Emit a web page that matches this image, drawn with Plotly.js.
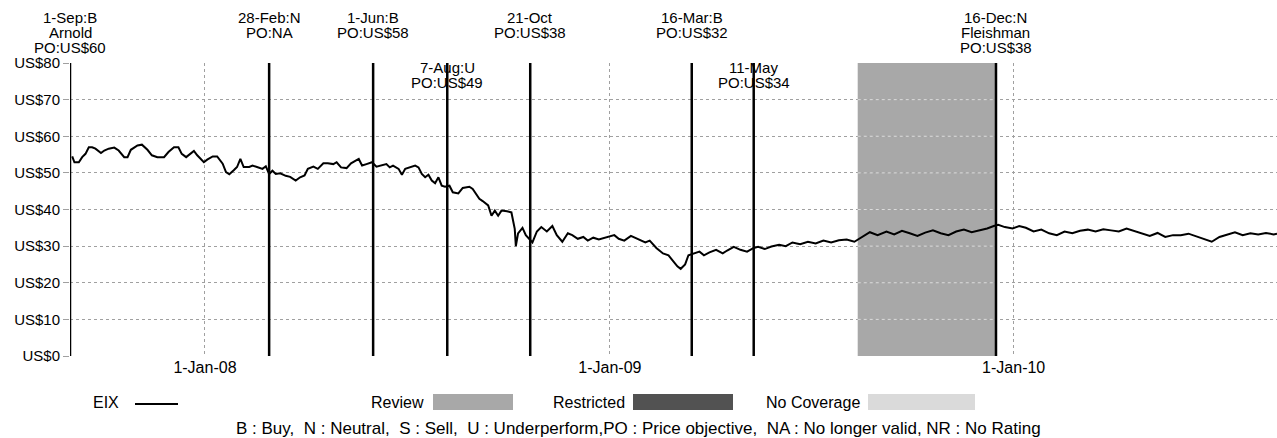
<!DOCTYPE html>
<html>
<head>
<meta charset="utf-8">
<script src="https://cdn.plot.ly/plotly-3.0.1.min.js"></script>
<style>
  html, body { margin: 0; padding: 0; background: #fff; }
  #chart { width: 1277px; height: 438px; }
</style>
</head>
<body>
<div id="chart"></div>
<script>
// ---------------- DATA ----------------
const ticker = 'EIX';

const priceDates = [
  '2007-09-03','2007-09-05','2007-09-09','2007-09-12','2007-09-15','2007-09-18','2007-09-21','2007-09-24','2007-09-29',
  '2007-10-02','2007-10-06','2007-10-11','2007-10-15','2007-10-20','2007-10-23','2007-10-26',
  '2007-11-01','2007-11-05','2007-11-10','2007-11-14','2007-11-19','2007-11-25','2007-11-29',
  '2007-12-04','2007-12-08','2007-12-11','2007-12-15','2007-12-19','2007-12-22','2007-12-25','2007-12-28','2007-12-31',
  '2008-01-03','2008-01-08','2008-01-12','2008-01-17','2008-01-20','2008-01-23','2008-01-27','2008-01-30',
  '2008-02-02','2008-02-05','2008-02-10','2008-02-13','2008-02-17','2008-02-22','2008-02-25','2008-02-28',
  '2008-03-02','2008-03-05','2008-03-09','2008-03-14','2008-03-18','2008-03-23','2008-03-27','2008-03-31',
  '2008-04-03','2008-04-08','2008-04-12','2008-04-17','2008-04-21','2008-04-26','2008-04-29',
  '2008-05-03','2008-05-08','2008-05-12','2008-05-19','2008-05-22','2008-05-26','2008-05-31',
  '2008-06-04','2008-06-09','2008-06-13','2008-06-16','2008-06-19','2008-06-24','2008-06-27','2008-06-30',
  '2008-07-04','2008-07-09','2008-07-12','2008-07-15','2008-07-18','2008-07-21','2008-07-24','2008-07-27','2008-07-30',
  '2008-08-02','2008-08-05','2008-08-09','2008-08-12','2008-08-17','2008-08-21','2008-08-27','2008-08-30',
  '2008-09-02','2008-09-05','2008-09-08','2008-09-13','2008-09-16','2008-09-19','2008-09-22','2008-09-25','2008-09-30',
  '2008-10-04','2008-10-07','2008-10-08','2008-10-10','2008-10-14','2008-10-17','2008-10-23','2008-10-27','2008-10-31',
  '2008-11-05','2008-11-10','2008-11-14','2008-11-19','2008-11-24','2008-11-28',
  '2008-12-03','2008-12-08','2008-12-12','2008-12-17','2008-12-22','2008-12-29',
  '2009-01-05','2009-01-09','2009-01-14','2009-01-20','2009-01-26',
  '2009-02-02','2009-02-06','2009-02-12','2009-02-18','2009-02-23','2009-02-27',
  '2009-03-03','2009-03-06','2009-03-10','2009-03-13','2009-03-18','2009-03-23','2009-03-27',
  '2009-04-01','2009-04-07','2009-04-13','2009-04-17','2009-04-23','2009-04-29',
  '2009-05-05','2009-05-11','2009-05-15','2009-05-21','2009-05-27',
  '2009-06-03','2009-06-09','2009-06-15','2009-06-22','2009-06-29',
  '2009-07-06','2009-07-13','2009-07-20','2009-07-27',
  '2009-08-03','2009-08-10','2009-08-17','2009-08-24','2009-08-31',
  '2009-09-08','2009-09-15','2009-09-22','2009-09-29',
  '2009-10-06','2009-10-13','2009-10-20','2009-10-27',
  '2009-11-03','2009-11-10','2009-11-17','2009-11-24',
  '2009-12-01','2009-12-08','2009-12-14','2009-12-18','2009-12-24','2009-12-31',
  '2010-01-06','2010-01-12','2010-01-19','2010-01-26',
  '2010-02-02','2010-02-09','2010-02-16','2010-02-23',
  '2010-03-02','2010-03-09','2010-03-16','2010-03-23','2010-03-30',
  '2010-04-06','2010-04-13','2010-04-20','2010-04-27',
  '2010-05-04','2010-05-11','2010-05-18','2010-05-25',
  '2010-06-01','2010-06-08','2010-06-15','2010-06-22','2010-06-29',
  '2010-07-06','2010-07-13','2010-07-20','2010-07-27',
  '2010-08-03','2010-08-10','2010-08-17','2010-08-24','2010-08-27'
];

const priceValues = [
  54.5,52.9,52.9,54.3,55.2,57.0,57.0,56.6,55.4,
  56.1,56.6,56.9,56.1,54.3,54.3,56.3,
  57.5,57.7,56.3,54.8,54.3,54.3,55.7,
  57.0,57.0,55.2,54.3,55.4,56.0,54.8,53.9,52.9,
  53.6,54.5,54.5,52.5,50.2,49.6,50.7,51.6,
  53.8,51.6,51.6,52.0,51.6,51.1,51.8,49.7,
  50.6,49.7,49.9,49.2,48.9,47.9,48.8,49.3,
  51.1,51.7,51.1,52.6,52.6,52.4,52.9,
  51.5,51.3,52.6,53.8,52.0,52.4,52.9,
  51.7,52.2,52.4,51.5,52.0,51.1,49.5,51.1,
  51.5,52.0,51.5,49.7,48.8,49.5,47.9,47.2,48.8,
  46.5,46.2,46.5,44.7,44.4,45.9,46.2,45.6,
  44.2,42.9,42.3,41.1,38.3,39.7,38.3,39.7,39.5,
  39.2,34.7,30.0,33.5,35.0,33.0,31.0,34.0,35.2,
  34.0,35.5,33.0,31.2,33.5,33.0,
  32.0,32.5,31.5,32.3,31.8,32.5,
  33.0,32.0,31.5,32.8,32.0,
  31.0,31.5,29.5,28.0,27.5,26.0,
  24.5,23.8,25.0,27.5,28.0,28.5,27.5,
  28.3,29.0,28.0,28.8,29.8,29.0,
  28.5,29.5,29.8,29.2,29.9,
  30.4,30.0,31.0,30.5,31.2,
  30.7,31.5,31.0,31.6,
  31.8,31.2,32.5,33.8,33.0,
  34.0,33.2,34.2,33.5,
  32.8,33.7,34.3,33.5,
  33.0,34.0,34.5,33.8,
  34.2,34.8,35.5,35.8,35.2,34.8,
  35.5,35.0,34.0,34.5,
  33.5,33.0,34.0,33.5,
  34.2,34.5,34.0,34.6,34.3,
  34.0,34.8,34.2,33.5,
  32.8,33.6,32.5,33.0,
  33.0,33.4,32.6,32.0,31.2,
  32.5,33.2,33.8,33.0,
  33.5,33.2,33.6,33.2,33.4
];

// Rating / price-objective events
const eventDates  = ['2007-09-01','2008-02-28','2008-06-01','2008-08-07','2008-10-21','2009-03-16','2009-05-11','2009-12-16'];
const eventLabels = [
  '1-Sep:B|Arnold|PO:US$60',
  '28-Feb:N|PO:NA',
  '1-Jun:B|PO:US$58',
  '7-Aug:U|PO:US$49',
  '21-Oct|PO:US$38',
  '16-Mar:B|PO:US$32',
  '11-May|PO:US$34',
  '16-Dec:N|Fleishman|PO:US$38'
];

// Coverage status periods
const reviewStart = '2009-08-13';
const reviewEnd   = '2009-12-16';

const yTickVals = [0,10,20,30,40,50,60,70,80];
const yTickText = yTickVals.map(v => 'US$' + v);
const xTickVals = ['2008-01-01','2009-01-01','2010-01-01'];

const legendLabels = ['Review','Restricted','No Coverage'];
const footnote = 'B : Buy,  N : Neutral,  S : Sell,  U : Underperform,PO : Price objective,  NA : No longer valid, NR : No Rating';

// ---------------- LAYOUT HELPERS ----------------
const W = 1277, H = 438;
const M = {l: 70, r: 0, t: 63, b: 82};
const PW = W - M.l - M.r, PH = H - M.t - M.b;
const px = x => (x - M.l) / PW;          // pixel -> paper x
const py = y => (H - M.b - y) / PH;      // pixel -> paper y

const FONT = '"Liberation Sans", Arial, sans-serif';
const FS_ANN = 15, FS_TICK = 15, FS_X = 16, FS_LEG = 16, FS_NOTE = 17;

const shapes = [];
const annotations = [];

// review shading
shapes.push({type:'rect', xref:'x', yref:'y', x0:reviewStart, x1:reviewEnd, y0:0, y1:80,
  fillcolor:'#a8a8a8', line:{width:0}, layer:'below'});
// light grid showing through the shading
yTickVals.slice(1, -1).forEach(v => {
  shapes.push({type:'line', xref:'x', yref:'y', x0:reviewStart, x1:reviewEnd, y0:v, y1:v,
    line:{color:'#dcdcdc', width:1, dash:'dot'}, layer:'above'});
});

// event lines + labels
const lowered = new Set(['2008-08-07','2009-05-11']);
eventDates.forEach((d, i) => {
  shapes.push({type:'line', xref:'x', yref:'y', x0:d, x1:d, y0:0, y1:80,
    line:{color:'#000', width:2.5}});
  const lines = eventLabels[i].split('|');
  const base = lowered.has(d) ? 67 : 17.5;
  lines.forEach((t, k) => {
    annotations.push({xref:'x', yref:'paper', x:d, y:1, yanchor:'middle', xanchor:'center',
      yshift: M.t - (base + k*15), text:t, showarrow:false,
      font:{family:FONT, size:FS_ANN, color:'#000'}});
  });
});

// custom legend row
const legY = 402;
annotations.push({xref:'paper', yref:'paper', x:px(121), y:py(legY), xanchor:'right', yanchor:'middle',
  text:ticker, showarrow:false, font:{family:FONT, size:FS_LEG, color:'#000'}});
shapes.push({type:'line', xref:'paper', yref:'paper', x0:px(135), x1:px(178), y0:py(legY+2), y1:py(legY+2),
  line:{color:'#000', width:2}});
const swatch = [
  {tx:426, x0:433, x1:513, c:'#a8a8a8'},
  {tx:627, x0:633, x1:733, c:'#525252'},
  {tx:862, x0:868, x1:975, c:'#dadada'}
];
legendLabels.forEach((lab, i) => {
  const s = swatch[i];
  annotations.push({xref:'paper', yref:'paper', x:px(s.tx), y:py(legY), xanchor:'right', yanchor:'middle',
    text:lab, showarrow:false, font:{family:FONT, size:FS_LEG, color:'#000'}});
  shapes.push({type:'rect', xref:'paper', yref:'paper', x0:px(s.x0), x1:px(s.x1), y0:py(legY-8), y1:py(legY+8),
    fillcolor:s.c, line:{width:0}});
});

// footnote
annotations.push({xref:'paper', yref:'paper', x:px(638), y:py(428), xanchor:'center', yanchor:'middle',
  text:footnote, showarrow:false, font:{family:FONT, size:FS_NOTE, color:'#000'}});

const trace = {
  type:'scatter', mode:'lines', x:priceDates, y:priceValues, name:ticker,
  line:{color:'#000', width:2}, hoverinfo:'skip'
};

const layout = {
  width:W, height:H, margin:M, showlegend:false,
  paper_bgcolor:'#fff', plot_bgcolor:'#fff',
  font:{family:FONT, size:FS_TICK, color:'#000'},
  xaxis:{type:'date', range:['2007-09-01','2010-08-27'], tickvals:xTickVals, tickformat:'%-d-%b-%y',
    showgrid:true, gridcolor:'#a0a0a0', griddash:'dot', gridwidth:1, zeroline:false, showline:false,
    ticks:'', tickfont:{family:FONT, size:FS_X, color:'#000'}, fixedrange:true},
  yaxis:{range:[0,80], tickmode:'array', tickvals:yTickVals, ticktext:yTickText, showgrid:true, gridcolor:'#a0a0a0',
    griddash:'dot', gridwidth:1, zeroline:false, showline:false, ticks:'outside', ticklen:6,
    tickcolor:'#a0a0a0', tickfont:{family:FONT, size:FS_TICK, color:'#000'}, fixedrange:true},
  shapes, annotations
};

Plotly.newPlot('chart', [trace], layout, {staticPlot:true, displayModeBar:false});
</script>
</body>
</html>
